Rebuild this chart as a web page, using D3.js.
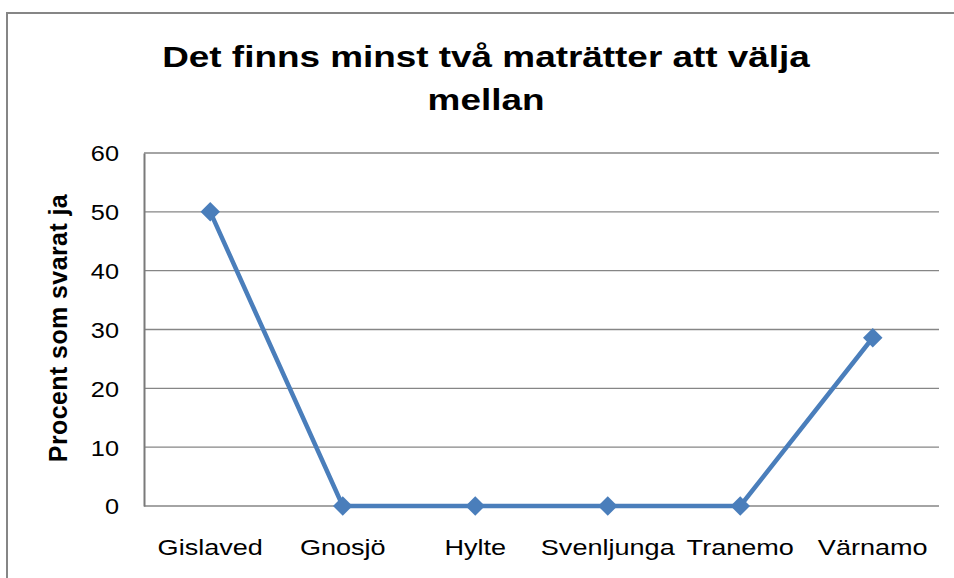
<!DOCTYPE html>
<html>
<head>
<meta charset="utf-8">
<script src="https://cdn.jsdelivr.net/npm/d3@7"></script>
<style>
  body { margin: 0; background: #fff; }
  text { font-family: "Liberation Sans", Arial, sans-serif; fill: #000; }
</style>
</head>
<body>
<script>
var categories = ["Gislaved", "Gnosjö", "Hylte", "Svenljunga", "Tranemo", "Värnamo"];
var values = [50, 0, 0, 0, 0, 28.6];
var yTicks = [0, 10, 20, 30, 40, 50, 60];
var titleLines = ["Det finns minst två maträtter att välja", "mellan"];
var yLabel = "Procent som svarat ja";

var W = 954, H = 578;
var margin = { top: 153, right: 15, bottom: 72, left: 144 },
  width = W - margin.left - margin.right,
  height = H - margin.top - margin.bottom;

// the original picture is a bit stretched sideways
var stretch = 1.23;

var svg = d3.select("body").append("svg")
  .attr("width", W)
  .attr("height", H);

// chart frame (cut off at right and bottom)
svg.append("path")
  .attr("d", "M7,578 V13 H954")
  .attr("fill", "none")
  .attr("stroke", "#868686")
  .attr("stroke-width", 2);

// title
svg.append("text")
  .attr("transform", "translate(486,67) scale(" + stretch + ",1)")
  .attr("text-anchor", "middle")
  .style("font-size", "30px")
  .style("font-weight", "bold")
  .selectAll("tspan")
  .data(titleLines)
  .join("tspan")
  .attr("x", 0)
  .attr("dy", function (d, i) { return i === 0 ? 0 : 43; })
  .text(function (d) { return d; });

var g = svg.append("g")
  .attr("transform", "translate(" + margin.left + "," + margin.top + ")");

var x = d3.scaleBand().domain(categories).range([0, width]);
var y = d3.scaleLinear().domain([0, 60]).range([height, 0]);

// gridlines
g.append("g")
  .selectAll("line")
  .data(yTicks)
  .join("line")
  .attr("x1", 0)
  .attr("x2", width)
  .attr("y1", function (d) { return y(d); })
  .attr("y2", function (d) { return y(d); })
  .attr("stroke", "#868686")
  .attr("stroke-width", 1.3);

// y axis
var yAxis = g.append("g")
  .call(d3.axisLeft(y).tickValues(yTicks).tickSize(0));
yAxis.select(".domain").attr("stroke", "#7a7a7a").attr("stroke-width", 2);
yAxis.selectAll("text")
  .attr("x", 0)
  .attr("dy", "0.36em")
  .attr("transform", "translate(-25,0) scale(1.15,1)")
  .style("font-size", "22px");

// x axis labels
var xAxis = g.append("g")
  .attr("transform", "translate(0," + height + ")")
  .call(d3.axisBottom(x).tickSize(0));
xAxis.select(".domain").remove();
xAxis.selectAll("text")
  .attr("y", 49)
  .attr("dy", 0)
  .attr("transform", "scale(" + stretch + ",1)")
  .style("font-size", "22px");

// y axis title
svg.append("text")
  .attr("transform", "translate(67,328) rotate(-90)")
  .attr("text-anchor", "middle")
  .style("font-size", "25px")
  .style("font-weight", "bold")
  .style("letter-spacing", "0.4px")
  .text(yLabel);

var line = d3.line()
  .x(function (d, i) { return x(categories[i]) + x.bandwidth() / 2; })
  .y(function (d) { return y(d); });

g.append("path")
  .datum(values)
  .attr("fill", "none")
  .attr("stroke", "#4A7EBB")
  .attr("stroke-width", 4.5)
  .attr("d", line);

g.selectAll(".marker")
  .data(values)
  .join("path")
  .attr("class", "marker")
  .attr("d", d3.symbol().type(d3.symbolSquare).size(190))
  .attr("transform", function (d, i) {
    return "translate(" + (x(categories[i]) + x.bandwidth() / 2) + "," + y(d) + ") rotate(45)";
  })
  .attr("fill", "#4A7EBB");
</script>
</body>
</html>
